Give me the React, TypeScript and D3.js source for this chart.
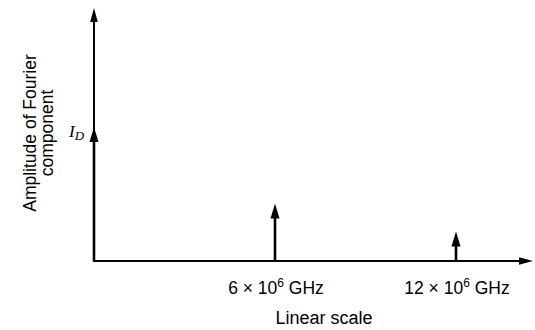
import React from "react";
import * as d3 from "d3";

const frequencies = [0, 6, 12]; // ×10^6 GHz
const amplitudes = [1, 0.43, 0.22]; // relative to I_D
const tickValues = [6, 12];
const tickLabels = ["6", "12"];
const yLabelLines = ["Amplitude of Fourier", "component"];
const xTitle = "Linear scale";

const W = 535;
const H = 330;

function arrowHead(x: number, y: number, dir: "up" | "right", len: number, hw: number) {
  if (dir === "up") return `M${x},${y} L${x - hw},${y + len} L${x + hw},${y + len} Z`;
  return `M${x},${y} L${x - len},${y - hw} L${x - len},${y + hw} Z`;
}

export default function App() {
  const x = d3.scaleLinear().domain([0, 12]).range([94, 456]);
  const y = d3.scaleLinear().domain([0, 1]).range([261, 127]);
  const x0 = x(0);
  const y0 = y(0);
  const axisTop = 8;
  const axisRight = 533;
  const sans = "'Liberation Sans', Arial, Helvetica, sans-serif";
  const ink = "#000";

  return (
    <svg width={W} height={H} style={{ position: "absolute", left: 0, top: 0, background: "#fff" }}>
      {/* axes */}
      <line x1={x0} y1={y0} x2={x0} y2={axisTop + 12} stroke={ink} strokeWidth={2} />
      <path d={arrowHead(x0, axisTop, "up", 14, 3.8)} fill={ink} />
      <line x1={x0 - 1} y1={y0} x2={axisRight - 12} y2={y0} stroke={ink} strokeWidth={2} />
      <path d={arrowHead(axisRight, y0, "right", 14, 3.8)} fill={ink} />

      {/* spectral lines */}
      {frequencies.map((f, i) => {
        const px = x(f);
        const tip = y(amplitudes[i]);
        return (
          <g key={i}>
            <line x1={px} y1={y0} x2={px} y2={tip + 12} stroke={ink} strokeWidth={2.6} />
            <path d={arrowHead(px, tip, "up", 15, 4.5)} fill={ink} />
          </g>
        );
      })}

      {/* I_D label */}
      <text x={69} y={y(1) + 10} fontFamily="'Liberation Serif', 'Times New Roman', serif" fontStyle="italic" fontSize={17} fill={ink}>
        I<tspan fontSize={13} dy={3}>D</tspan>
      </text>

      {/* tick labels */}
      {tickValues.map((v, i) => (
        <text key={v} x={x(v) + 1} y={294} textAnchor="middle" fontFamily={sans} fontSize={17.5} fill={ink}>
          {tickLabels[i]} × 10<tspan fontSize={12} dy={-7}>6</tspan>
          <tspan dy={7}> GHz</tspan>
        </text>
      ))}

      {/* x title */}
      <text x={324} y={324} textAnchor="middle" fontFamily={sans} fontSize={18} fill={ink}>
        {xTitle}
      </text>

      {/* y title */}
      <g transform="translate(0,133) rotate(-90)">
        {yLabelLines.map((t, i) => (
          <text key={i} x={0} y={36 + i * 16.5} textAnchor="middle" fontFamily={sans} fontSize={17.5} fill={ink}>
            {t}
          </text>
        ))}
      </g>
    </svg>
  );
}
